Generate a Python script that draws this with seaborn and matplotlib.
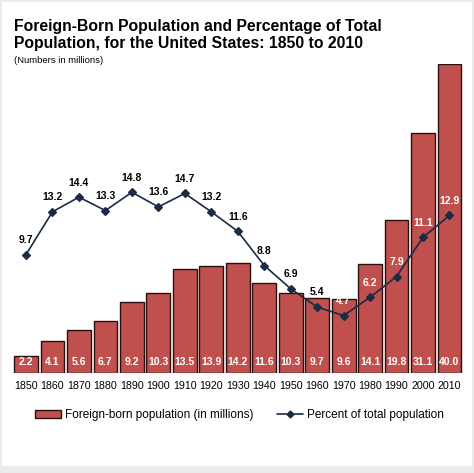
import matplotlib
matplotlib.use("Agg")
import matplotlib.pyplot as plt
import matplotlib.patches as mpatches
import matplotlib.lines as mlines
import seaborn as sns
import pandas as pd
import numpy as np

# data
years = ["1850", "1860", "1870", "1880", "1890", "1900", "1910", "1920", "1930",
         "1940", "1950", "1960", "1970", "1980", "1990", "2000", "2010"]
foreign_born = [2.2, 4.1, 5.6, 6.7, 9.2, 10.3, 13.5, 13.9, 14.2,
                11.6, 10.3, 9.7, 9.6, 14.1, 19.8, 31.1, 40.0]
percent_total = [9.7, 13.2, 14.4, 13.3, 14.8, 13.6, 14.7, 13.2, 11.6,
                 8.8, 6.9, 5.4, 4.7, 6.2, 7.9, 11.1, 12.9]

bar_color = "#c0504d"
bar_edge = "#2b0f0f"
line_color = "#1b2b44"

sns.set_style("white")
plt.rcParams["font.family"] = ["Liberation Sans", "DejaVu Sans"]
plt.rcParams["text.color"] = "black"
plt.rcParams["xtick.color"] = "black"
plt.rcParams["xtick.labelcolor"] = "black"

df = pd.DataFrame({"year": years, "foreign": foreign_born, "pct": percent_total})

W, H = 474, 473
fig = plt.figure(figsize=(W / 100, H / 100), dpi=100, facecolor="#ebebeb")
# white panel inside the thin gray border
fig.patches.append(mpatches.Rectangle((2 / W, 7 / H), 470 / W, 464 / H,
                                      transform=fig.transFigure, facecolor="white",
                                      edgecolor="none", zorder=-5))

left, right = 12.8, 462.7
base, top = 373, 64
ax = fig.add_axes([left / W, (H - base) / H, (right - left) / W, (base - top) / H])
ax.set_facecolor("none")
ax.set_zorder(2)

sns.barplot(data=df, x="year", y="foreign", ax=ax, color=bar_color, width=0.9,
            edgecolor=bar_edge, linewidth=1.0, saturation=1)
ax.set_ylim(0, 40)
ax.set_xlim(-0.5, len(years) - 0.5)
ax.set_xlabel("")
ax.set_ylabel("")
ax.set_yticks([])
ax.tick_params(axis="x", length=0, pad=6, labelsize=7.7, labelcolor="black")
for s in ax.spines.values():
    s.set_visible(False)

for i, v in enumerate(foreign_born):
    ax.annotate(f"{v:.1f}", (i, 0), xytext=(0, 8), textcoords="offset points",
                ha="center", va="center", color="white", fontsize=7.5, fontweight="bold")

ax2 = ax.twinx()
ax2.set_zorder(3)
ax2.set_facecolor("none")
sns.pointplot(data=df, x="year", y="pct", ax=ax2, color=line_color, markers="D",
              markersize=4.5, linewidth=1.2)
ax2.set_ylim(0, 25.3)
ax2.set_xlim(-0.5, len(years) - 0.5)
ax2.set_ylabel("")
ax2.set_yticks([])
for s in ax2.spines.values():
    s.set_visible(False)

for i, v in enumerate(percent_total):
    c = "white" if i >= 12 else "black"
    ax2.annotate(f"{v:.1f}", (i, v), xytext=(0, 10.5), textcoords="offset points",
                 ha="center", va="center", color=c, fontsize=7.5, fontweight="bold")

# title block
fig.text(14 / W, 1 - 19 / H, "Foreign-Born Population and Percentage of Total\n"
         "Population, for the United States: 1850 to 2010",
         ha="left", va="top", fontsize=11.3, fontweight="bold", linespacing=1.2,
         color="black")
fig.text(14 / W, 1 - 56 / H, "(Numbers in millions)", ha="left", va="top", fontsize=6.8,
         color="black")

bar_handle = mpatches.Patch(facecolor=bar_color, edgecolor=bar_edge, linewidth=1.0)
line_handle = mlines.Line2D([], [], color=line_color, marker="D", markersize=3.5, linewidth=1.2)
fig.legend([bar_handle, line_handle],
           ["Foreign-born population (in millions)", "Percent of total population"],
           loc="center", bbox_to_anchor=(0.505, 1 - 415 / H), ncol=2, frameon=False,
           fontsize=8.5, handlelength=2.2, handleheight=0.7, columnspacing=2.0,
           handletextpad=0.3, labelcolor="black")

fig.savefig("out.png", dpi=100, facecolor=fig.get_facecolor())
